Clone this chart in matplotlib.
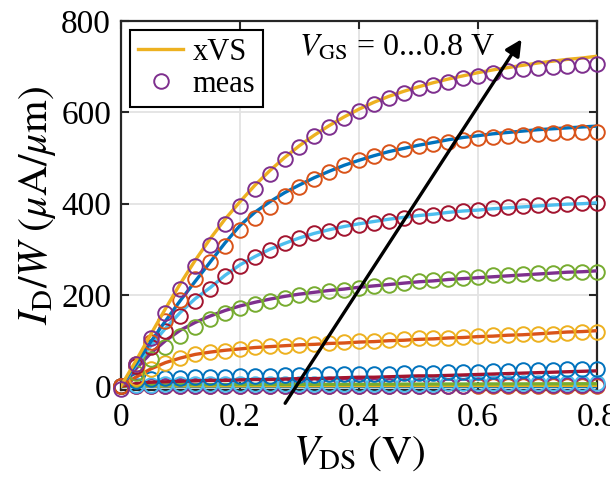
import matplotlib
matplotlib.use("Agg")
import matplotlib.pyplot as plt

# ----------------------------------
# DATA
# ----------------------------------

vds = [0.000, 0.025, 0.050, 0.075, 0.100, 0.125, 0.150, 0.175, 0.200, 0.225, 0.250,
       0.275, 0.300, 0.325, 0.350, 0.375, 0.400, 0.425, 0.450, 0.475, 0.500, 0.525,
       0.550, 0.575, 0.600, 0.625, 0.650, 0.675, 0.700, 0.725, 0.750, 0.775, 0.800]

vgs_labels = ["0.0", "0.1", "0.2", "0.3", "0.4", "0.5", "0.6", "0.7", "0.8"]

# xVS model, ID/W in uA/um
xvs_00 = [0, 0, 0, 0, 0, 0, 0, 0, 0, 0, 0, 0, 0, 0, 0, 0, 0, 0, 0, 0, 0, 0, 0, 0,
          0, 0, 0, 0, 0, 0, 0, 0, 0]
xvs_01 = [0, 0.5, 0.8, 1.0, 1.1, 1.2, 1.2, 1.3, 1.3, 1.4, 1.4, 1.4, 1.5, 1.5, 1.5, 1.6,
          1.6, 1.6, 1.7, 1.7, 1.7, 1.8, 1.8, 1.8, 1.9, 1.9, 1.9, 2.0, 2.0, 2.0, 2.1, 2.1, 2.1]
xvs_02 = [0, 2.0, 3.0, 3.4, 3.6, 3.8, 3.9, 4.0, 4.1, 4.2, 4.3, 4.3, 4.4, 4.5, 4.5, 4.6,
          4.7, 4.7, 4.8, 4.9, 4.9, 5.0, 5.1, 5.1, 5.2, 5.3, 5.3, 5.4, 5.5, 5.6, 5.6, 5.7, 5.8]
xvs_03 = [0, 6, 9, 10, 11, 12, 13, 13, 14, 15, 15, 16, 17, 17, 18, 19, 20, 20, 21, 22,
          23, 23, 24, 25, 26, 27, 28, 29, 30, 31, 32, 33, 34]
xvs_04 = [0, 20, 38, 52, 62, 70, 75, 79, 82, 85, 87, 89, 91, 92, 94, 95, 97, 98, 100,
          101, 103, 104, 106, 107, 109, 110, 112, 113, 115, 117, 119, 120, 122]
xvs_05 = [0, 38, 72, 100, 123, 140, 154, 166, 176, 184, 191, 197, 202, 206, 210, 213,
          217, 220, 223, 226, 229, 231, 234, 236, 238, 240, 242, 244, 246, 248, 250, 251, 253]
xvs_06 = [0, 45, 88, 127, 162, 192, 216, 243, 266, 284, 300, 313, 325, 335, 343, 350,
          356, 361, 366, 370, 374, 377, 381, 384, 386, 389, 391, 393, 395, 397, 399, 400, 402]
xvs_07 = [0, 48, 97, 143, 188, 230, 272, 314, 352, 381, 404, 424, 441, 457, 471, 484,
          495, 505, 514, 521, 528, 534, 540, 545, 549, 553, 556, 559, 562, 564, 566, 568, 570]
xvs_08 = [0, 55, 113, 170, 225, 276, 323, 366, 404, 440, 472, 501, 527, 550, 571, 590,
          607, 622, 635, 646, 656, 665, 673, 680, 687, 693, 698, 703, 708, 712, 716, 719, 723]

# measured, ID/W in uA/um
meas_00 = [0, 0.2, 0.3, 0.3, 0.3, 0.3, 0.3, 0.3, 0.3, 0.3, 0.3, 0.3, 0.3, 0.3, 0.3, 0.3,
           0.3, 0.3, 0.3, 0.3, 0.3, 0.3, 0.3, 0.3, 0.3, 0.3, 0.3, 0.3, 0.3, 0.3, 0.3, 0.3, 0.3]
meas_01 = [0, 0.6, 0.9, 1.1, 1.2, 1.3, 1.3, 1.4, 1.4, 1.5, 1.5, 1.5, 1.6, 1.6, 1.6, 1.7,
           1.7, 1.7, 1.8, 1.8, 1.8, 1.9, 1.9, 1.9, 2.0, 2.0, 2.0, 2.1, 2.1, 2.1, 2.2, 2.2, 2.2]
meas_02 = [0, 3.0, 4.0, 4.5, 4.8, 5.0, 5.1, 5.2, 5.3, 5.4, 5.5, 5.5, 5.6, 5.7, 5.7, 5.8,
           5.9, 5.9, 6.0, 6.1, 6.1, 6.2, 6.3, 6.3, 6.4, 6.5, 6.5, 6.6, 6.7, 6.8, 6.8, 6.9, 7.0]
meas_03 = [0, 12, 16, 18, 19, 20, 21, 21, 22, 23, 23, 24, 24, 25, 26, 26, 27, 28, 28, 29,
           29, 30, 31, 31, 32, 33, 34, 35, 36, 36, 37, 38, 39]
meas_04 = [0, 18, 39, 51, 62, 71, 75, 78, 82, 86, 88, 89, 91, 93, 94, 97, 99, 100, 102,
           104, 105, 106, 107, 109, 110, 112, 113, 114, 115, 115, 117, 118, 119]
meas_05 = [0, 30, 59, 86, 110, 131, 147, 160, 172, 181, 188, 194, 199, 203, 208, 211,
           216, 219, 223, 227, 230, 233, 235, 238, 240, 243, 244, 246, 248, 249, 251, 251, 251]
meas_06 = [0, 45, 86, 121, 154, 186, 214, 241, 264, 283, 299, 313, 325, 335, 341, 347,
           353, 358, 363, 369, 373, 376, 380, 384, 387, 390, 393, 395, 397, 398, 400, 401, 402]
meas_07 = [0, 48, 97, 143, 190, 236, 273, 307, 342, 369, 393, 417, 437, 453, 470, 484,
           495, 504, 513, 519, 526, 531, 536, 539, 543, 546, 548, 550, 552, 554, 556, 557, 558]
meas_08 = [-6, 50, 106, 161, 214, 263, 310, 355, 396, 433, 466, 498, 524, 548, 568, 588,
           604, 619, 631, 643, 653, 660, 667, 675, 680, 686, 691, 694, 697, 700, 702, 703, 705]

xvs_all = [xvs_00, xvs_01, xvs_02, xvs_03, xvs_04, xvs_05, xvs_06, xvs_07, xvs_08]
meas_all = [meas_00, meas_01, meas_02, meas_03, meas_04, meas_05, meas_06, meas_07, meas_08]

x_ticks = [0, 0.2, 0.4, 0.6, 0.8]
x_ticklabels = ["0", "0.2", "0.4", "0.6", "0.8"]
y_ticks = [0, 200, 400, 600, 800]

# ----------------------------------
# STYLE (MATLAB default colour order)
# ----------------------------------

BLUE = "#0072BD"
ORANGE = "#D95319"
YELLOW = "#EDB120"
PURPLE = "#7E2F8E"
GREEN = "#77AC30"
CYAN = "#4DBEEE"
DARKRED = "#A2142F"

line_colors = [BLUE, YELLOW, GREEN, DARKRED, ORANGE, PURPLE, CYAN, BLUE, YELLOW]
meas_colors = [ORANGE, PURPLE, CYAN, BLUE, YELLOW, GREEN, DARKRED, ORANGE, PURPLE]

plt.rcParams["font.family"] = "serif"
plt.rcParams["font.serif"] = ["Liberation Serif"]
plt.rcParams["mathtext.fontset"] = "stix"

# ----------------------------------
# PLOT
# ----------------------------------

fig = plt.figure(figsize=(6.10, 4.83), dpi=100)
ax = fig.add_axes([0.198, 0.1925, 0.781, 0.764])

handles = []
for k in range(len(vgs_labels)):
    ln, = ax.plot(vds, xvs_all[k], color=line_colors[k], lw=2.4, zorder=3)
    mk, = ax.plot(vds, meas_all[k], "o", ms=10.5, mfc="none", mec=meas_colors[k],
                  mew=1.4, zorder=3, clip_on=False)
    handles = [ln, mk]

ax.set_xlim(0, 0.8)
ax.set_ylim(-8, 800)
ax.set_xticks(x_ticks)
ax.set_xticklabels(x_ticklabels)
ax.set_yticks(y_ticks)

ax.grid(True, color="#e3e3e3", lw=1.3, zorder=0)
ax.set_axisbelow(True)
for sp in ax.spines.values():
    sp.set_linewidth(1.6)
    sp.set_color("#262626")
ax.tick_params(direction="in", length=6, width=1.5, labelsize=24,
               top=True, right=True, colors="#262626", labelcolor="black")
ax.tick_params(axis="x", pad=9)
ax.tick_params(axis="y", pad=7)

ax.set_xlabel(r"$V_{\rm DS}\ \rm (V)$", fontsize=30, labelpad=1)
ax.set_ylabel(r"$I_{\rm D}/W\ (\mu{\rm A}/\mu{\rm m})$", fontsize=30, labelpad=2)

# arrow across the VGS sweep
ax.annotate("", xy=(0.673, 760), xytext=(0.276, -37),
            arrowprops=dict(arrowstyle="-|>", lw=2.4, color="black",
                            mutation_scale=24, shrinkA=0, shrinkB=0),
            annotation_clip=False, zorder=5)
ax.text(0.30, 741, r"$V_{\rm GS}$ = 0...0.8 V", fontsize=23, va="center",
        ha="left", zorder=5)

leg = ax.legend(handles, ["xVS", "meas"], loc="upper left", fontsize=22,
                frameon=True, fancybox=False, handlelength=1.5, handletextpad=0.3,
                borderpad=0.25, labelspacing=0.1, borderaxespad=0.3,
                bbox_to_anchor=(0.0, 1.0))
leg.get_frame().set_edgecolor("black")
leg.get_frame().set_linewidth(1.5)
leg.get_frame().set_alpha(1)

fig.savefig("out.png", dpi=100)
